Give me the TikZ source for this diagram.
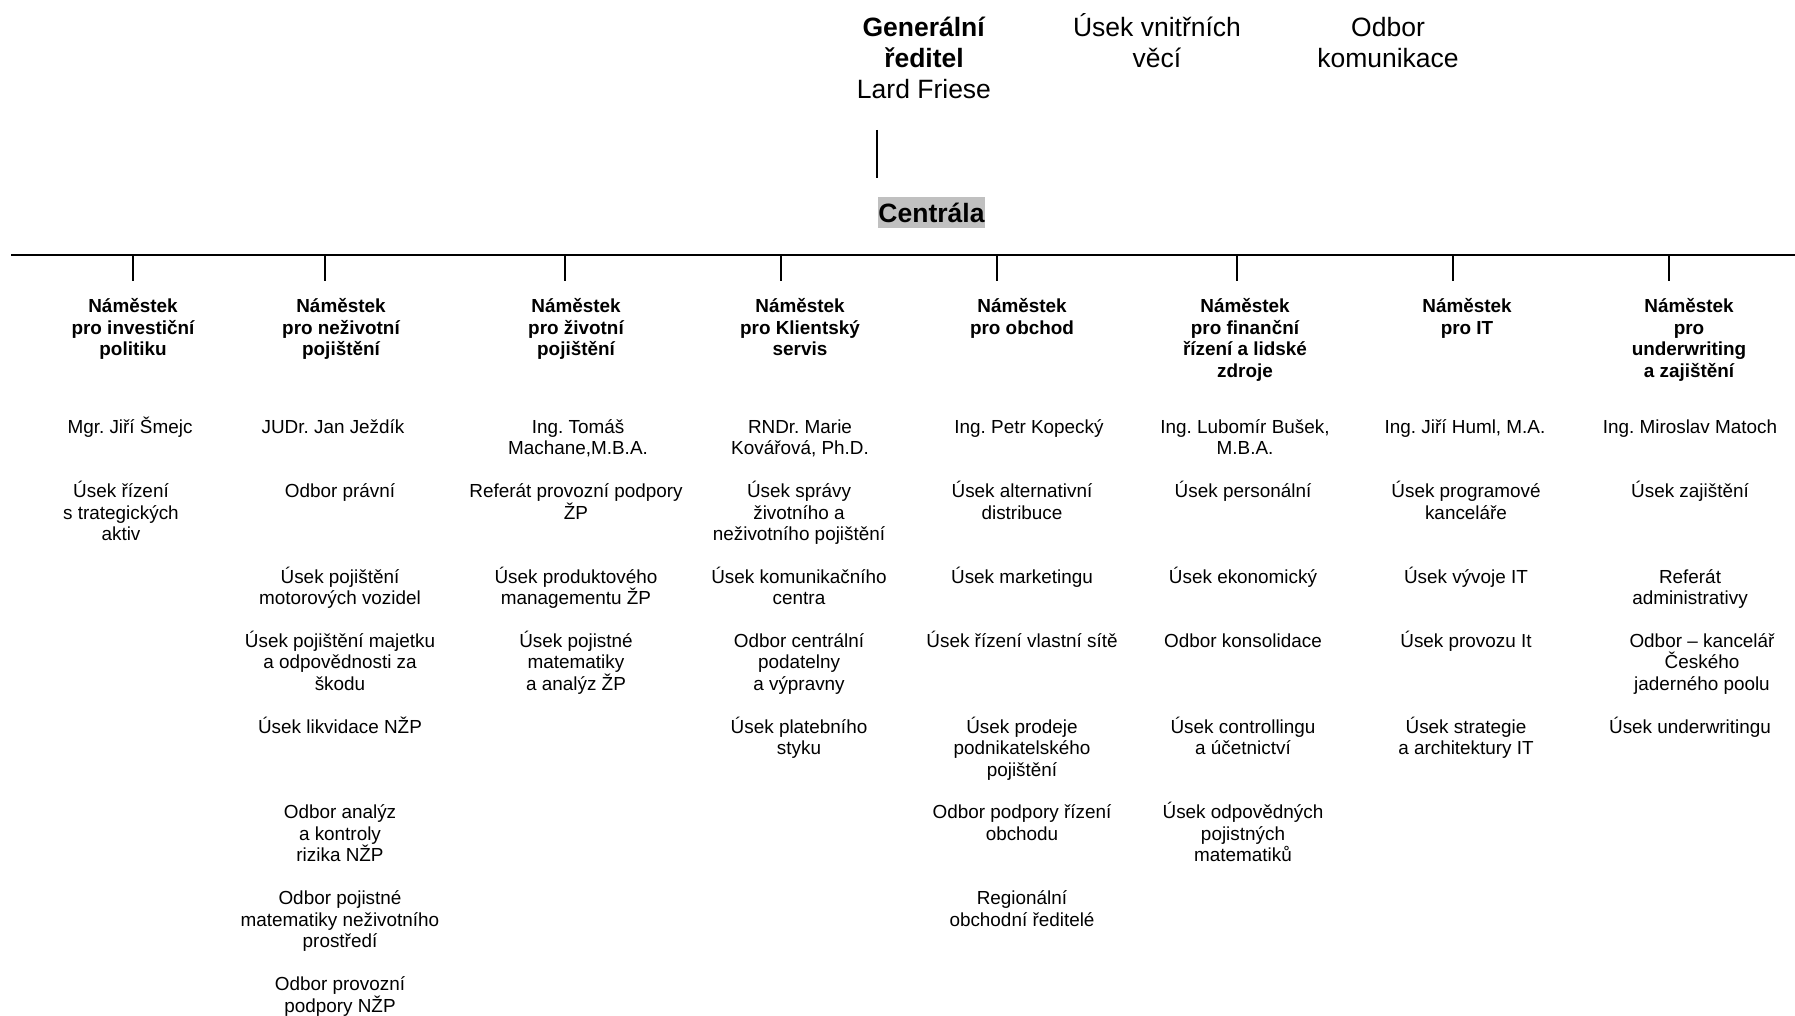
\documentclass[tikz,border=0pt]{standalone}
\usepackage{fontspec}
\setmainfont{Liberation Sans}
\usetikzlibrary{arrows,shapes}
\frenchspacing
\definecolor{boxgray}{RGB}{192,192,192}
\newcommand{\unitfont}{\fontsize{18.9}{21.5}\selectfont}
\newcommand{\topfont}{\fontsize{26.5}{31}\selectfont}
\newcommand{\unitstrut}{\rule{0pt}{18pt}}
\newcommand{\topstrut}{\rule{0pt}{25pt}}
\tikzstyle{chief}=[align=center,anchor=north,inner sep=0pt,font=\topfont]
\tikzstyle{deputy}=[align=center,anchor=north,inner sep=0pt,font=\unitfont\bfseries]
\tikzstyle{dept}=[align=center,anchor=north,inner sep=0pt,font=\unitfont]
\tikzstyle{edge} = [draw,line width=1.6pt,-]

\begin{document}
\begin{tikzpicture}[x=1pt,y=-1pt]
    \useasboundingbox (0,0) rectangle (1795,1016);
    % Top management
    \node[chief] (gr) at (924,11) {\topstrut\textbf{Generální}\\\textbf{ředitel}\\Lard Friese};
    \node[chief] (uvv) at (1157,11) {\topstrut Úsek vnitřních\\věcí};
    \node[chief] (kom) at (1388,11) {\topstrut Odbor\\komunikace};
    % Link down to the head office
    \coordinate (gr-foot) at (877,130);
    \coordinate (hq-top) at (877,178);
    \path[edge,line width=1.3pt] (gr-foot) -- (hq-top);
    \node[fill=boxgray,font=\topfont\bfseries,inner xsep=0.5pt,inner ysep=0pt,minimum height=31.5pt] (hq) at (931.5,212.5) {Centrála};
    % The bar and its ticks
    \coordinate (bar-w) at (11,255);
    \coordinate (bar-e) at (1795,255);
    \path[edge] (bar-w) -- (bar-e);
    \foreach \x/\name in {132.8/inv, 325/nez, 565/ziv, 781/kli, 997/obc, 1237/fin, 1453/it, 1669/uw}{
        \coordinate (\name-a) at (\x,255);
        \coordinate (\name-b) at (\x,281);
        \path[edge] (\name-a) -- (\name-b);
    }
    % Deputies
    \foreach \x/\name/\txt in {133/inv/{Náměstek\\pro investiční\\politiku}, 341/nez/{Náměstek\\pro neživotní\\pojištění},
        576/ziv/{Náměstek\\pro životní\\pojištění}, 800/kli/{Náměstek\\pro Klientský\\servis},
        1022/obc/{Náměstek\\pro obchod}, 1245/fin/{Náměstek\\pro finanční\\řízení a lidské\\zdroje},
        1467/it/{Náměstek\\pro IT}, 1689/uw/{Náměstek\\pro\\underwriting\\a zajištění}}
        \node[deputy] (\name-dep) at (\x,294.6) {\unitstrut\txt};
    % Their names
    \foreach \x/\name/\txt in {130/inv/{Mgr. Jiří Šmejc}, 333/nez/{JUDr. Jan Ježdík}, 578/ziv/{Ing. Tomáš\\Machane,M.B.A.},
        800/kli/{RNDr. Marie\\Kovářová, Ph.D.}, 1029/obc/{Ing. Petr Kopecký}, 1245/fin/{Ing. Lubomír Bušek,\\M.B.A.},
        1465/it/{Ing. Jiří Huml, M.A.}, 1690/uw/{Ing. Miroslav Matoch}}
        \node[dept] (\name-boss) at (\x,415) {\unitstrut\txt};
    % Departments, column by column
    \foreach \x/\y/\name/\txt in {121/479.5/inv1/{Úsek řízení\\s trategických\\aktiv},
        340/479.5/nez1/{Odbor právní}, 340/565/nez2/{Úsek pojištění\\motorových vozidel},
        340/629/nez3/{Úsek pojištění majetku\\a odpovědnosti za\\škodu}, 340/714.8/nez4/{Úsek likvidace NŽP},
        340/800.6/nez5/{Odbor analýz\\a kontroly\\rizika NŽP}, 340/886.4/nez6/{Odbor pojistné\\matematiky neživotního\\prostředí},
        340/972.4/nez7/{Odbor provozní\\podpory NŽP},
        576/479.5/ziv1/{Referát provozní podpory\\ŽP}, 576/565/ziv2/{Úsek produktového\\managementu ŽP},
        576/629/ziv3/{Úsek pojistné\\matematiky\\a analýz ŽP},
        799/479.5/kli1/{Úsek správy\\životního a\\neživotního pojištění}, 799/565/kli2/{Úsek komunikačního\\centra},
        799/629/kli3/{Odbor centrální\\podatelny\\a výpravny}, 799/714.8/kli4/{Úsek platebního\\styku},
        1022/479.5/obc1/{Úsek alternativní\\distribuce}, 1022/565/obc2/{Úsek marketingu},
        1022/629/obc3/{Úsek řízení vlastní sítě}, 1022/714.8/obc4/{Úsek prodeje\\podnikatelského\\pojištění},
        1022/800.6/obc5/{Odbor podpory řízení\\obchodu}, 1022/886.4/obc6/{Regionální\\obchodní ředitelé},
        1243/479.5/fin1/{Úsek personální}, 1243/565/fin2/{Úsek ekonomický}, 1243/629/fin3/{Odbor konsolidace},
        1243/714.8/fin4/{Úsek controllingu\\a účetnictví}, 1243/800.6/fin5/{Úsek odpovědných\\pojistných\\matematiků},
        1466/479.5/it1/{Úsek programové\\kanceláře}, 1466/565/it2/{Úsek vývoje IT}, 1466/629/it3/{Úsek provozu It},
        1466/714.8/it4/{Úsek strategie\\a architektury IT},
        1690/479.5/uw1/{Úsek zajištění}, 1690/565/uw2/{Referát\\administrativy},
        1702/629/uw3/{Odbor – kancelář\\Českého\\jaderného poolu}, 1690/714.8/uw4/{Úsek underwritingu}}
        \node[dept] (\name) at (\x,\y) {\unitstrut\txt};
\end{tikzpicture}
\end{document}
